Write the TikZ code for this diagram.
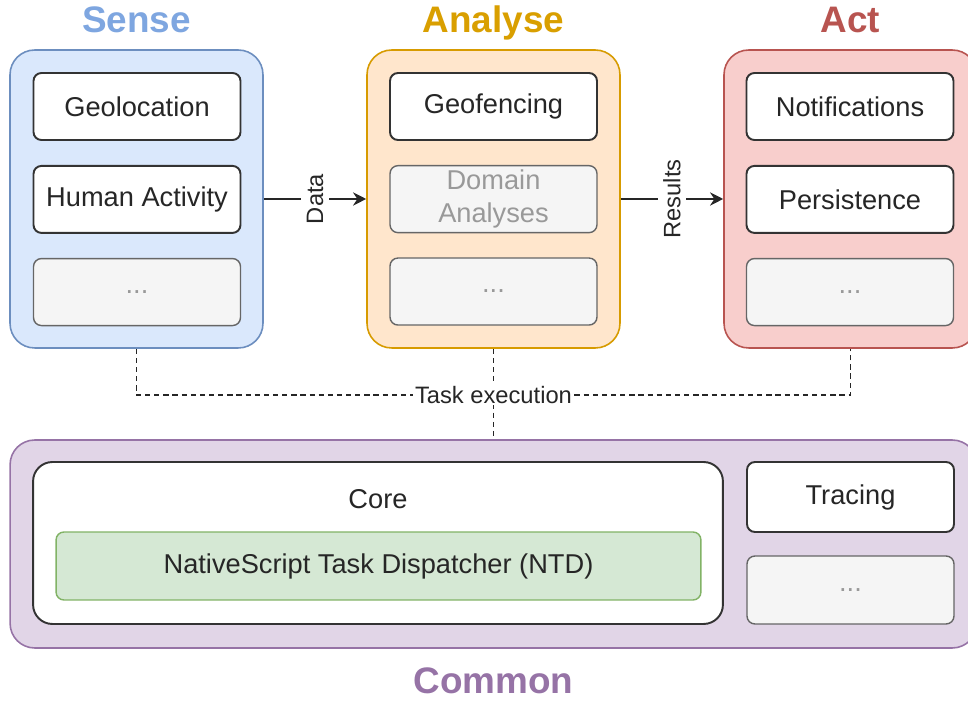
\documentclass[tikz,border=0pt]{standalone}
\usepackage{fontspec}
\setmainfont{Liberation Sans}
\usetikzlibrary{positioning, arrows.meta}
\definecolor{senseFill}{HTML}{DAE8FC}
\definecolor{senseLine}{HTML}{6C8EBF}
\definecolor{senseHead}{HTML}{7EA6E0}
\definecolor{analyseFill}{HTML}{FFE6CC}
\definecolor{analyseLine}{HTML}{D79B00}
\definecolor{analyseHead}{HTML}{D99F00}
\definecolor{actFill}{HTML}{F8CECC}
\definecolor{actLine}{HTML}{B85450}
\definecolor{actHead}{HTML}{B85450}
\definecolor{commonFill}{HTML}{E1D5E7}
\definecolor{commonLine}{HTML}{9673A6}
\definecolor{commonHead}{HTML}{9673A6}
\definecolor{ntdFill}{HTML}{D5E8D4}
\definecolor{ntdLine}{HTML}{82B366}
\definecolor{stubFill}{HTML}{F5F5F5}
\definecolor{stubLine}{HTML}{666666}
\definecolor{stubText}{HTML}{999999}
\definecolor{muted}{HTML}{333333}

\tikzset{
  category/.style={draw=#1Line, fill=#1Fill, line width=0.9pt, rounded corners=14pt,
                   minimum width=5.06cm, minimum height=5.96cm},
  heading/.style={font=\fontsize{21}{24}\selectfont\bfseries, anchor=base, inner sep=0pt},
  module/.style={draw=muted, fill=white, line width=1.1pt, rounded corners=4.5pt,
                 minimum width=4.14cm, minimum height=1.34cm, inner sep=0pt,
                 align=center, text=black!85,
                 font=\fontsize{15.5}{18.5}\selectfont},
  stub/.style={module, draw=stubLine, fill=stubFill, text=stubText, line width=0.8pt},
  corebox/.style={draw=muted, fill=white, line width=1.1pt, rounded corners=11pt,
                  minimum width=13.8cm, minimum height=3.24cm},
  ntdbox/.style={module, draw=ntdLine, fill=ntdFill, line width=0.8pt,
                 minimum width=12.9cm, minimum height=1.36cm},
  flow/.style={-{Stealth[length=7.5pt, width=7.5pt]}, line width=0.9pt, black!85},
  bus/.style={dash pattern=on 3pt off 2.2pt, line width=0.9pt, black!85},
  edgelabel/.style={fill=white, inner sep=3pt, text=black!85,
                    font=\fontsize{13.5}{15}\selectfont}
}

\begin{document}
\begin{tikzpicture}[x=0.02cm, y=-0.02cm]
  \useasboundingbox (0,0) rectangle (968,702);
  \clip (0,0) rectangle (968,702);

  % categories
  \node[category=sense]   (sense)   at (136.5,199) {};
  \node[category=analyse] (analyse) at (493.5,199) {};
  \node[category=act]     (act)     at (850.5,199) {};
  \node[category=common, minimum width=19.34cm, minimum height=4.16cm] (common) at (493.5,544) {};

  \node[heading, text=senseHead]   (senseT)   at (136.5,33) {Sense};
  \node[heading, text=analyseHead] (analyseT) at (493.5,33) {Analyse};
  \node[heading, text=actHead]     (actT)     at (850.5,33) {Act};
  \node[heading, text=commonHead]  (commonT)  at (493.5,694) {Common};

  % modules
  \node[module] (geoloc) at (137,106.5) {Geolocation};
  \node[module, below=0.48cm of geoloc] (activity) {Human Activity};
  \node[stub, below=0.48cm of activity] (senseMore) {...};

  \node[module] (geofence) at (493.5,106.5) {Geofencing};
  \node[stub, below=0.48cm of geofence] (domain) {Domain\\Analyses};
  \node[stub, below=0.48cm of domain] (analyseMore) {...};

  \node[module] (notif) at (850,106.5) {Notifications};
  \node[module, below=0.48cm of notif] (persist) {Persistence};
  \node[stub, below=0.48cm of persist] (actMore) {...};

  % common
  \node[corebox] (core) at (378,543) {};
  \node[text=black!85, font=\fontsize{15.5}{18}\selectfont] (coreT) at (378,499) {Core};
  \node[ntdbox] (ntd) at (378.5,566) {NativeScript Task Dispatcher (NTD)};
  \node[module, minimum height=1.4cm] (tracing) at (850.5,497) {Tracing};
  \node[stub, minimum height=1.36cm] (commonMore) at (850.5,590) {...};

  % connectors
  \draw[flow] (sense) -- node[edgelabel, rotate=90] (dataL) {Data} (analyse);
  \draw[flow] (analyse) -- node[edgelabel, rotate=90] (resultsL) {Results} (act);

  \coordinate (busLine) at (493.5,395);
  \draw[bus] (sense.south) |- (busLine) -| (act.south);
  \draw[bus] (analyse.south) -- (common.north);
  \node[edgelabel, inner sep=1pt] (taskL) at (busLine) {Task execution};
\end{tikzpicture}
\end{document}
